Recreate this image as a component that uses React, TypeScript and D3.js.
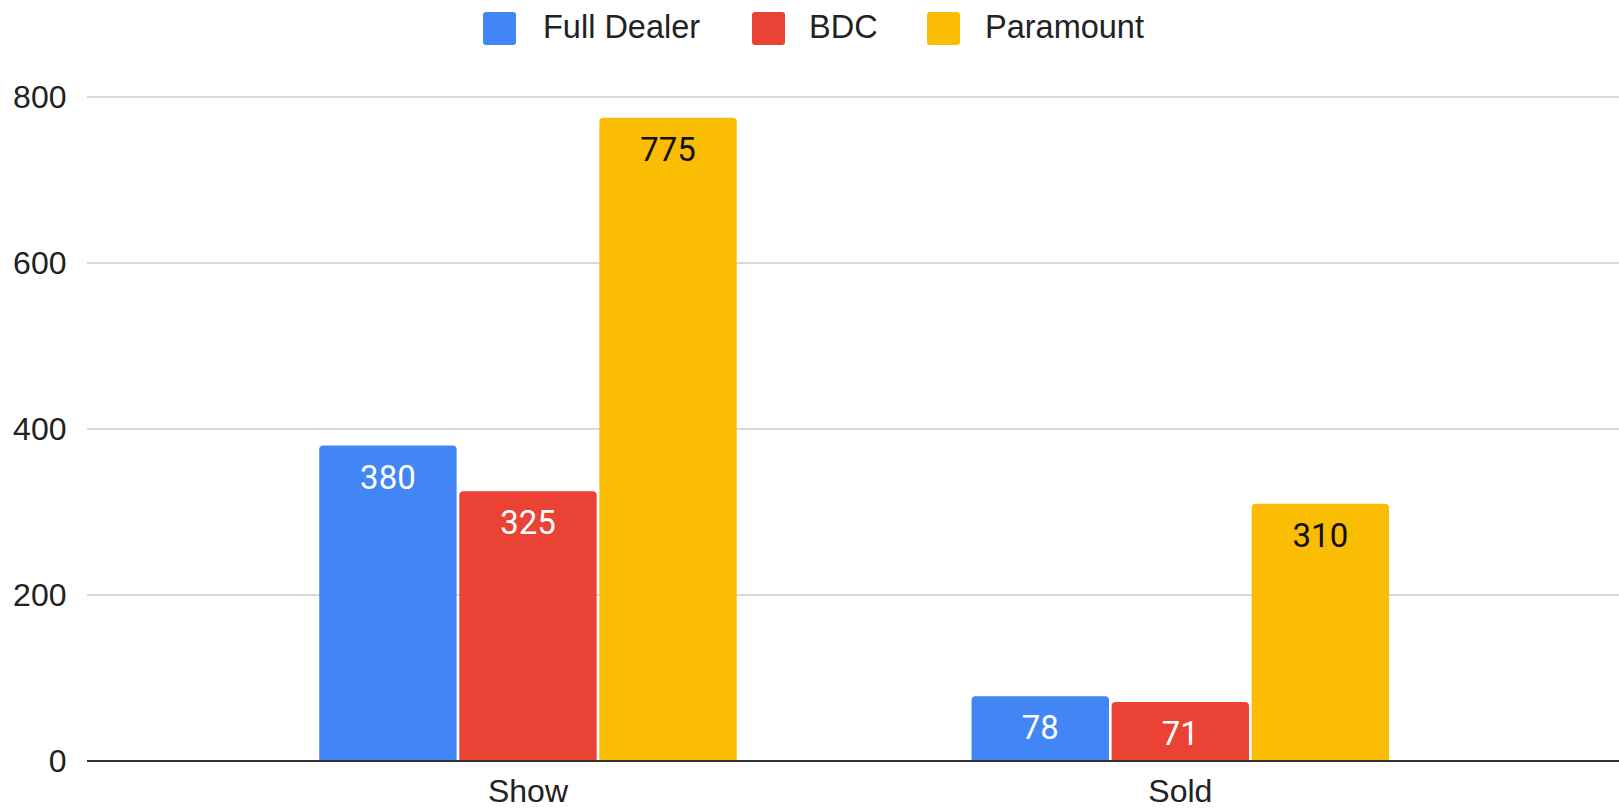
import React from "react";
import * as d3 from "d3";

const categories = ["Show", "Sold"];
const seriesNames = ["Full Dealer", "BDC", "Paramount"];
const fullDealer = [380, 78];
const bdc = [325, 71];
const paramount = [775, 310];
const yTicks = [0, 200, 400, 600, 800];
const colors = ["#4285F4", "#EA4335", "#FBBC04"];
const labelColors = ["#ffffff", "#ffffff", "#111111"];

const W = 1619;
const H = 810;

function topRounded(x: number, y: number, w: number, h: number, r: number) {
  const rr = Math.min(r, h / 2, w / 2);
  return `M${x},${y + h}V${y + rr}Q${x},${y} ${x + rr},${y}H${x + w - rr}Q${x + w},${y} ${x + w},${y + rr}V${y + h}Z`;
}

export default function App() {
  const seriesValues = [fullDealer, bdc, paramount];
  const x0 = d3.scaleBand<string>().domain(categories).range([201.8, 1506.5]).paddingInner(0.36).paddingOuter(0.18);
  const x1 = d3.scaleBand<string>().domain(seriesNames).range([0, x0.bandwidth()]).paddingInner(0.019).paddingOuter(0);
  const y = d3.scaleLinear().domain([0, 800]).range([761, 97]);
  const plotLeft = 87;

  const legendItems = [
    { name: seriesNames[0], sx: 483, tx: 543 },
    { name: seriesNames[1], sx: 752, tx: 809 },
    { name: seriesNames[2], sx: 927, tx: 985 },
  ];

  return (
    <svg width={W} height={H} style={{ position: "fixed", left: 0, top: 0, background: "#fff" }}>
      <rect x={0} y={0} width={W} height={H} fill="#fff" />
      {yTicks.filter((t) => t !== 0).map((t) => (
        <line key={t} x1={plotLeft} x2={W} y1={y(t)} y2={y(t)} stroke="#cccccc" strokeWidth={1.6} />
      ))}
      {yTicks.map((t) => (
        <text key={"l" + t} x={66.5} y={y(t) + 11} textAnchor="end" fontFamily="'Liberation Sans', Arial, sans-serif" fontSize={32} fill="#222">
          {t}
        </text>
      ))}
      {categories.map((c, ci) =>
        seriesNames.map((s, si) => {
          const v = seriesValues[si][ci];
          const bx = (x0(c) as number) + (x1(s) as number);
          const bw = x1.bandwidth();
          const by = y(v);
          const bh = y(0) - by;
          return (
            <g key={c + s}>
              <path d={topRounded(bx, by, bw, bh, 4)} fill={colors[si]} />
              <text x={bx + bw / 2} y={by + 43} textAnchor="middle" fontFamily="Roboto, sans-serif" fontSize={33} fill={labelColors[si]}>
                {v}
              </text>
            </g>
          );
        })
      )}
      <line x1={plotLeft} x2={W} y1={y(0)} y2={y(0)} stroke="#333" strokeWidth={2} />
      {categories.map((c) => (
        <text key={"x" + c} x={(x0(c) as number) + x0.bandwidth() / 2} y={802} textAnchor="middle" fontFamily="'Liberation Sans', Arial, sans-serif" fontSize={32} fill="#222">
          {c}
        </text>
      ))}
      {legendItems.map((it, i) => (
        <g key={it.name}>
          <rect x={it.sx} y={12} width={33} height={33} rx={3} fill={colors[i]} />
          <text x={it.tx} y={37.5} fontFamily="'Liberation Sans', Arial, sans-serif" fontSize={32.5} fill="#222">
            {it.name}
          </text>
        </g>
      ))}
    </svg>
  );
}
